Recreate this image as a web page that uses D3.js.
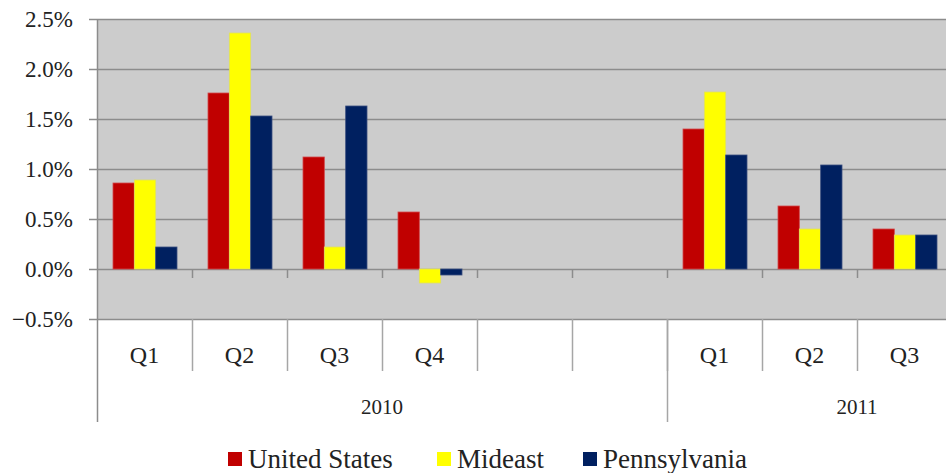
<!DOCTYPE html>
<html>
<head>
<meta charset="utf-8">
<script src="https://cdn.jsdelivr.net/npm/d3@7"></script>
<style>
  body { margin: 0; background: #fff; }
  svg { display: block; }
  text { font-family: "Liberation Serif", "DejaVu Serif", serif; }
</style>
</head>
<body>
<svg></svg>
<script>
//chart size
const width = 946;
const height = 473;

//data
var quarters = ['Q1', 'Q2', 'Q3', 'Q4', '', '', 'Q1', 'Q2', 'Q3', '']; //last slot lies past the cropped edge
var years = ['2010', '2011'];
var yearSpans = [6, 4]; //slots under each year
var seriesNames = ['United States', 'Mideast', 'Pennsylvania'];
var unitedStates = [0.86, 1.76, 1.12, 0.57, null, null, 1.40, 0.63, 0.40, null];
var mideast = [0.89, 2.36, 0.22, -0.14, null, null, 1.77, 0.40, 0.34, null];
var pennsylvania = [0.22, 1.53, 1.63, -0.06, null, null, 1.14, 1.04, 0.34, null];
var yTicks = [-0.5, 0, 0.5, 1.0, 1.5, 2.0, 2.5];

//colours
var colors = ['#C00000', '#FFFF00', '#002060'];
var strokes = ['#d2484a', '#e0e060', '#3a4f80'];

var svg = d3.select('svg')
    .attr('width', width)
    .attr('height', height);

//plot area
var plotLeft = 97, plotTop = 19, plotBottom = 319;
var slotW = 95;
var slots = d3.range(quarters.length);

var x = d3.scaleBand().domain(slots).range([plotLeft, plotLeft + slotW * slots.length]).padding(0);
var y = d3.scaleLinear().domain([-0.5, 2.5]).range([plotBottom, plotTop]);
var xs = d3.scaleBand().domain(seriesNames).range([16, 80]).padding(0);

//gray background
svg.append('rect')
   .attr('x', plotLeft)
   .attr('y', plotTop)
   .attr('width', x.range()[1] - plotLeft)
   .attr('height', plotBottom - plotTop)
   .attr('fill', '#cccccc');

//gridlines
svg.append('g').selectAll('line')
   .data(yTicks)
   .join('line')
   .attr('x1', plotLeft - 8)
   .attr('x2', x.range()[1])
   .attr('y1', d => Math.round(y(d)) + 0.5)
   .attr('y2', d => Math.round(y(d)) + 0.5)
   .attr('stroke', '#8c8c8c')
   .attr('stroke-width', 1.5);

//y labels
svg.append('g').selectAll('text')
   .data(yTicks)
   .join('text')
   .attr('x', 73)
   .attr('y', d => y(d))
   .attr('dy', '0.35em')
   .attr('text-anchor', 'end')
   .attr('font-size', 23)
   .attr('fill', '#222')
   .text(d => d3.format('.1f')(d) + '%');

//bars
var seriesData = [unitedStates, mideast, pennsylvania];
seriesData.forEach(function(vals, s) {
    svg.append('g').selectAll('rect')
       .data(slots.filter(i => vals[i] != null))
       .join('rect')
       .attr('x', i => x(i) + xs(seriesNames[s]))
       .attr('y', i => y(Math.max(0, vals[i])))
       .attr('width', xs.bandwidth())
       .attr('height', i => Math.abs(y(vals[i]) - y(0)))
       .attr('fill', colors[s])
       .attr('stroke', strokes[s])
       .attr('stroke-width', 0.8);
});

//vertical axis line
svg.append('line')
   .attr('x1', plotLeft + 0.5).attr('x2', plotLeft + 0.5)
   .attr('y1', plotTop).attr('y2', 422)
   .attr('stroke', '#8c8c8c')
   .attr('stroke-width', 1.5);

//ticks below zero line
svg.append('g').selectAll('line')
   .data(slots.slice(1))
   .join('line')
   .attr('x1', i => x(i) + 0.5)
   .attr('x2', i => x(i) + 0.5)
   .attr('y1', y(0))
   .attr('y2', y(0) + 9)
   .attr('stroke', '#8c8c8c')
   .attr('stroke-width', 1.5);

//quarter separators below plot
svg.append('g').selectAll('line')
   .data(slots.slice(1))
   .join('line')
   .attr('x1', i => x(i) + 0.5)
   .attr('x2', i => x(i) + 0.5)
   .attr('y1', plotBottom)
   .attr('y2', 371)
   .attr('stroke', '#a6a6a6')
   .attr('stroke-width', 1.5);

//quarter labels
svg.append('g').selectAll('text')
   .data(slots.filter(i => quarters[i] !== ''))
   .join('text')
   .attr('x', i => x(i) + slotW / 2)
   .attr('y', 355)
   .attr('dy', '0.35em')
   .attr('text-anchor', 'middle')
   .attr('font-size', 24)
   .attr('fill', '#222')
   .text(i => quarters[i]);

//year groups
var start = 0;
years.forEach(function(yr, k) {
    var x0 = x(start);
    var x1 = x0 + yearSpans[k] * slotW;
    if (k > 0) {
        svg.append('line')
           .attr('x1', x0 + 0.5).attr('x2', x0 + 0.5)
           .attr('y1', plotBottom).attr('y2', 422)
           .attr('stroke', '#a6a6a6')
           .attr('stroke-width', 1.5);
    }
    svg.append('text')
       .attr('x', (x0 + x1) / 2)
       .attr('y', 407)
       .attr('dy', '0.35em')
       .attr('text-anchor', 'middle')
       .attr('font-size', 21)
       .attr('fill', '#222')
       .text(yr);
    start += yearSpans[k];
});

//legend
var legendX = [228, 437, 583];
var legend = svg.append('g').selectAll('g')
    .data(seriesNames)
    .join('g')
    .attr('transform', (d, i) => 'translate(' + legendX[i] + ',452)');

legend.append('rect')
      .attr('width', 14)
      .attr('height', 14)
      .attr('fill', (d, i) => colors[i]);

legend.append('text')
      .attr('x', 20)
      .attr('y', 7)
      .attr('dy', '0.35em')
      .attr('font-size', 27)
      .attr('fill', '#222')
      .text(d => d);
</script>
</body>
</html>
